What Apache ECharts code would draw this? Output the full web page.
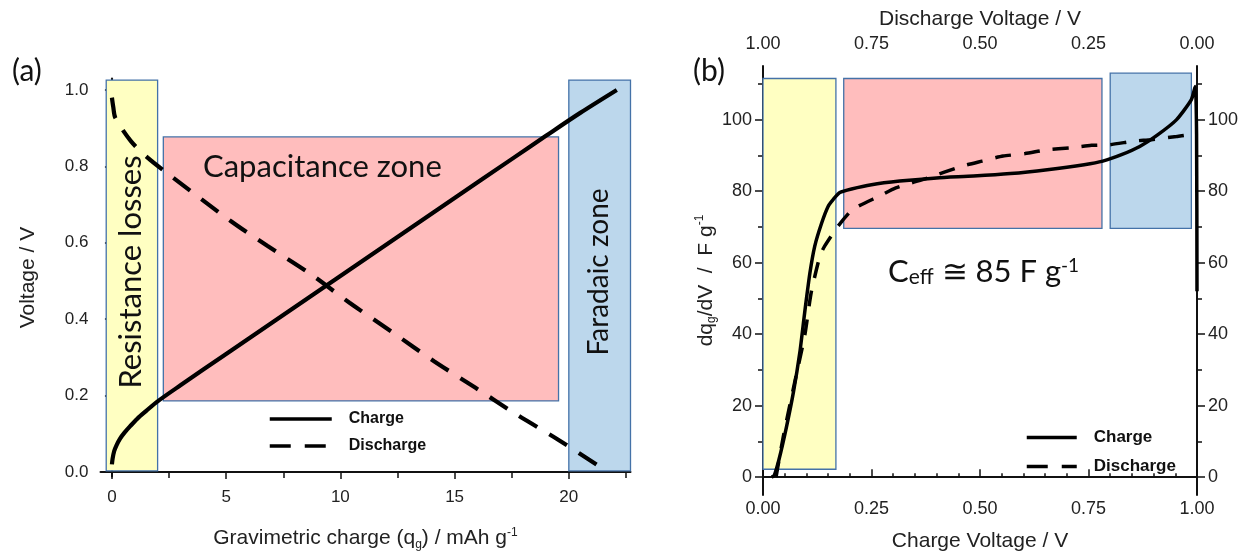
<!DOCTYPE html>
<html><head><meta charset="utf-8">
<script src="https://cdn.jsdelivr.net/npm/echarts@6/dist/echarts.min.js"></script>
<style>html,body{margin:0;padding:0;background:#fff}#c{width:1255px;height:557px}</style>
</head><body><div id="c"></div>
<script>
// ---------- Panel (a): voltage vs gravimetric charge ----------
const aChargeQ = [0, 0.03, 0.1, 0.2, 0.35, 0.55, 0.8, 1.1, 1.5, 2.0, 3, 5, 7.5, 10, 12.5, 15, 17.5, 19, 20.5, 22.1];
const aChargeV = [0.02, 0.035, 0.055, 0.07, 0.087, 0.103, 0.12, 0.139, 0.16, 0.185, 0.227, 0.309, 0.411, 0.513, 0.615, 0.717, 0.819, 0.88, 0.94, 1.0];
const aDischargeQ = [0, 0.06, 0.15, 0.83, 1.56, 2.58, 5.2, 6.8, 8.7, 10.4, 12.3, 14.1, 15.9, 17.7, 19.5, 21.3];
const aDischargeV = [0.98, 0.955, 0.927, 0.866, 0.823, 0.775, 0.657, 0.592, 0.518, 0.443, 0.365, 0.29, 0.221, 0.151, 0.086, 0.016];
const aXTicks = [0, 5, 10, 15, 20];
const aXMinor = [2.5, 7.5, 12.5, 17.5, 22.5];
const aYTicks = [0, 0.2, 0.4, 0.6, 0.8, 1.0];
const aYMinor = [0.1, 0.3, 0.5, 0.7, 0.9];
// zones: [x1, y1, x2, y2]
const aZoneResistance = [-0.25, 0.003, 2.0, 1.026];
const aZoneCapacitance = [2.25, 0.186, 19.55, 0.877];
const aZoneFaradaic = [20.0, 0.003, 22.7, 1.026];

// ---------- Panel (b): dq/dV vs voltage ----------
const bChargeV = [0.02, 0.026, 0.037, 0.054, 0.07, 0.085, 0.096, 0.108, 0.119, 0.135, 0.15, 0.162, 0.177, 0.204, 0.25, 0.315, 0.40, 0.485, 0.57, 0.655, 0.74, 0.783, 0.826, 0.868, 0.91, 0.953, 0.987, 0.996, 0.999, 1.0];
const bChargeDq = [0, 0.5, 5, 14, 23.7, 35, 46, 57, 64.5, 71, 75.7, 77.7, 79.6, 80.6, 81.8, 82.8, 83.7, 84.2, 84.9, 86, 87.4, 88.4, 90.2, 92.5, 95.8, 100, 105.6, 109.3, 96, 52];
// discharge voltage (top axis, reversed)
const bDischargeV = [0.97, 0.953, 0.927, 0.904, 0.889, 0.869, 0.858, 0.827, 0.793, 0.732, 0.694, 0.62, 0.541, 0.495, 0.447, 0.396, 0.345, 0.294, 0.243, 0.2, 0.145, 0.106, 0.047, 0.021, 0.009];
const bDischargeDq = [0, 11.5, 26.5, 39.5, 51.6, 61.8, 64.6, 70.2, 74.9, 78.6, 80.9, 83.7, 87, 88.4, 89.8, 90.5, 91.6, 92.1, 92.8, 93, 94, 94.4, 95.3, 95.8, 97.2];
const bYTicks = [0, 20, 40, 60, 80, 100];
const bYMinor = [10, 30, 50, 70, 90, 110];
const bZoneResistance = [0, 2.2, 0.168, 111.5];
const bZoneCapacitance = [0.186, 69.6, 0.781, 111.5];
const bZoneFaradaic = [0.80, 69.6, 0.987, 113];

const zip = (a, b) => a.map((v, i) => [v, b[i]]);
const AR = 'Liberation Sans, Arial, sans-serif';
const CAL = 'Lato, Open Sans, sans-serif';
const zone = (z, fill) => [{coord: [z[0], z[1]], itemStyle: {color: fill, borderColor: '#4472A8', borderWidth: 1.3}}, {coord: [z[2], z[3]]}];
const YELLOW = '#FFFFC2', PINK = '#FFBDBD', BLUE = '#BCD7EC';
const subRich = {
  s: {fontSize: 12, fontFamily: AR, color: '#222', verticalAlign: 'bottom', padding: [12, 0, 0, 0]},
  p: {fontSize: 12, fontFamily: AR, color: '#222', verticalAlign: 'top', padding: [0, 0, 10, 0]}
};
const axisLine = {show: true, lineStyle: {color: '#111', width: 2}};

const chart = echarts.init(document.getElementById('c'), null, {renderer: 'canvas'});
chart.setOption({
  animation: false,
  backgroundColor: '#fff',
  grid: [
    {left: 100.5, right: 624.5, top: 78.5, bottom: 80.4},
    {left: 763, right: 58, top: 66, bottom: 61}
  ],
  xAxis: [
    {gridIndex: 0, type: 'value', min: -0.5, max: 22.7, position: 'bottom', axisLine,
     axisTick: {show: true, inside: false, length: 7, customValues: aXTicks, lineStyle: {color: '#111', width: 1.5}},
     axisLabel: {customValues: aXTicks, fontSize: 17, fontFamily: AR, color: '#222', margin: 12},
     splitLine: {show: false},
     name: 'Gravimetric charge (q{s|g}) / mAh g{p|-1}', nameLocation: 'middle', nameGap: 50,
     nameTextStyle: {fontSize: 21, fontFamily: AR, color: '#222', rich: subRich}},
    {gridIndex: 0, type: 'value', min: -0.5, max: 22.7, position: 'bottom', axisLine: {show: false},
     axisTick: {show: true, inside: false, length: 6, customValues: aXMinor, lineStyle: {color: '#111', width: 1.5}},
     axisLabel: {show: false}, splitLine: {show: false}},
    {gridIndex: 1, type: 'value', min: 0, max: 1, interval: 0.25, position: 'bottom', axisLine,
     axisTick: {show: true, inside: true, length: 8, lineStyle: {color: '#111', width: 1.5}},
     minorTick: {show: true, splitNumber: 5, length: 4, lineStyle: {color: '#111', width: 1.5}},
     axisLabel: {formatter: v => v.toFixed(2), fontSize: 18, fontFamily: AR, color: '#222', margin: 5},
     splitLine: {show: false}, minorSplitLine: {show: false},
     name: 'Charge Voltage / V', nameLocation: 'middle', nameGap: 36,
     nameTextStyle: {fontSize: 21, fontFamily: AR, color: '#222'}},
    {gridIndex: 1, type: 'value', min: 0, max: 1, interval: 0.25, inverse: true, position: 'top', axisLine,
     axisTick: {show: true, inside: false, length: 8, lineStyle: {color: '#111', width: 1.5}},
     minorTick: {show: true, splitNumber: 5, length: 4, lineStyle: {color: '#111', width: 1.5}},
     axisLabel: {formatter: v => v.toFixed(2), fontSize: 18, fontFamily: AR, color: '#222', margin: 13},
     splitLine: {show: false}, minorSplitLine: {show: false},
     name: 'Discharge Voltage / V', nameLocation: 'middle', nameGap: 34,
     nameTextStyle: {fontSize: 21, fontFamily: AR, color: '#222'}}
  ],
  yAxis: [
    {gridIndex: 0, type: 'value', min: -0.012, max: 1.03, position: 'left', axisLine,
     axisTick: {show: true, inside: false, length: 7, customValues: aYTicks, lineStyle: {color: '#111', width: 1.5}},
     axisLabel: {customValues: aYTicks, formatter: v => v.toFixed(1), fontSize: 17, fontFamily: AR, color: '#222', margin: 12},
     splitLine: {show: false},
     name: 'Voltage / V', nameLocation: 'middle', nameGap: 62, nameRotate: 90,
     nameTextStyle: {fontSize: 21, fontFamily: AR, color: '#222'}},
    {gridIndex: 0, type: 'value', min: -0.012, max: 1.03, position: 'left', axisLine: {show: false},
     axisTick: {show: true, inside: false, length: 5, customValues: aYMinor, lineStyle: {color: '#111', width: 1.5}},
     axisLabel: {show: false}, splitLine: {show: false}},
    {gridIndex: 1, type: 'value', min: -5, max: 115, position: 'left', axisLine,
     axisTick: {show: true, inside: false, length: 8, customValues: bYTicks, lineStyle: {color: '#111', width: 1.5}},
     axisLabel: {customValues: bYTicks, fontSize: 18, fontFamily: AR, color: '#222', margin: 11},
     splitLine: {show: false},
     name: 'dq{s|g}/dV  /  F g{p|-1}', nameLocation: 'middle', nameGap: 42, nameRotate: 90,
     nameTextStyle: {fontSize: 21, fontFamily: AR, color: '#222', rich: subRich}},
    {gridIndex: 1, type: 'value', min: -5, max: 115, position: 'right', axisLine,
     axisTick: {show: true, inside: false, length: 8, customValues: bYTicks, lineStyle: {color: '#111', width: 1.5}},
     axisLabel: {customValues: bYTicks, fontSize: 18, fontFamily: AR, color: '#222', margin: 11},
     splitLine: {show: false}},
    {gridIndex: 1, type: 'value', min: -5, max: 115, position: 'left', axisLine: {show: false},
     axisTick: {show: true, inside: false, length: 5, customValues: bYMinor, lineStyle: {color: '#111', width: 1.5}},
     axisLabel: {show: false}, splitLine: {show: false}},
    {gridIndex: 1, type: 'value', min: -5, max: 115, position: 'right', axisLine: {show: false},
     axisTick: {show: true, inside: false, length: 5, customValues: bYMinor, lineStyle: {color: '#111', width: 1.5}},
     axisLabel: {show: false}, splitLine: {show: false}}
  ],
  legend: [
    {left: 263, top: 406, orient: 'vertical', itemWidth: 62, itemHeight: 14, itemGap: 11,
     data: ['Charge', 'Discharge'], selectedMode: false, itemStyle: {opacity: 0}, lineStyle: {width: 3.5},
     textStyle: {fontSize: 16, fontWeight: 'bold', fontFamily: AR, color: '#111', padding: [0, 0, 0, 12]}},
    {left: 1020, top: 424, orient: 'vertical', itemWidth: 50, itemHeight: 14, itemGap: 12,
     data: ['Charge', 'Discharge'], selectedMode: false, itemStyle: {opacity: 0}, lineStyle: {width: 3.5},
     textStyle: {fontSize: 17, fontWeight: 'bold', fontFamily: AR, color: '#111', padding: [0, 0, 0, 12]}}
  ],
  series: [
    {type: 'line', name: 'zonesA', xAxisIndex: 0, yAxisIndex: 0, data: [], z: 1, silent: true,
     markArea: {silent: true, data: [zone(aZoneResistance, YELLOW), zone(aZoneCapacitance, PINK), zone(aZoneFaradaic, BLUE)]}},
    {type: 'line', name: 'Charge', xAxisIndex: 0, yAxisIndex: 0, data: zip(aChargeQ, aChargeV), z: 3,
     symbol: 'none', smooth: 0.3, lineStyle: {color: '#000', width: 4.2}, itemStyle: {color: '#000'}},
    {type: 'line', name: 'Discharge', xAxisIndex: 0, yAxisIndex: 0, data: zip(aDischargeQ, aDischargeV), z: 3,
     symbol: 'none', smooth: 0.3, lineStyle: {color: '#000', width: 4.2, type: [21, 14]}, itemStyle: {color: '#000'}},
    {type: 'line', name: 'zonesB', xAxisIndex: 2, yAxisIndex: 2, data: [], z: 1, silent: true,
     markArea: {silent: true, data: [zone(bZoneResistance, YELLOW), zone(bZoneCapacitance, PINK), zone(bZoneFaradaic, BLUE)]}},
    {type: 'line', name: 'Charge', xAxisIndex: 2, yAxisIndex: 2, data: zip(bChargeV, bChargeDq), z: 3,
     symbol: 'none', smooth: 0.2, lineStyle: {color: '#000', width: 3.5}, itemStyle: {color: '#000'}},
    {type: 'line', name: 'Discharge', xAxisIndex: 3, yAxisIndex: 2, data: zip(bDischargeV, bDischargeDq), z: 3,
     symbol: 'none', smooth: 0.2, lineStyle: {color: '#000', width: 3.5, type: [16, 13]}, itemStyle: {color: '#000'}}
  ],
  graphic: {elements: [
    {type: 'text', z: 100, left: 12, top: 56, style: {text: '(a)', fontSize: 30, fontFamily: CAL, fill: '#111'}},
    {type: 'text', z: 100, left: 693, top: 56, style: {text: '(b)', fontSize: 30, fontFamily: CAL, fill: '#111'}},
    {type: 'text', z: 100, x: 203, y: 167, style: {text: 'Capacitance zone', fontSize: 31, fontFamily: CAL, fill: '#111', verticalAlign: 'middle'}},
    {type: 'text', z: 100, x: 131, y: 272, rotation: Math.PI / 2, style: {text: 'Resistance losses', fontSize: 31, fontFamily: CAL, fill: '#111', align: 'center', verticalAlign: 'middle'}},
    {type: 'text', z: 100, x: 599, y: 272, rotation: Math.PI / 2, style: {text: 'Faradaic zone', fontSize: 28, fontFamily: CAL, fill: '#111', align: 'center', verticalAlign: 'middle'}},
    {type: 'text', z: 100, x: 888, y: 272, style: {
      text: '{c|C}{s|eff}{c| \u2245 85 F g}{p|-1}', verticalAlign: 'middle',
      rich: {
        c: {fontSize: 31, fontFamily: CAL, fill: '#111', color: '#111', verticalAlign: 'top', lineHeight: 32},
        s: {fontSize: 21, fontFamily: CAL, fill: '#111', color: '#111', verticalAlign: 'bottom', lineHeight: 21, padding: [15, 0, 0, 0]},
        p: {fontSize: 19, fontFamily: CAL, fill: '#111', color: '#111', verticalAlign: 'top', lineHeight: 19}
      }}}
  ]}
});
</script>
</body></html>
